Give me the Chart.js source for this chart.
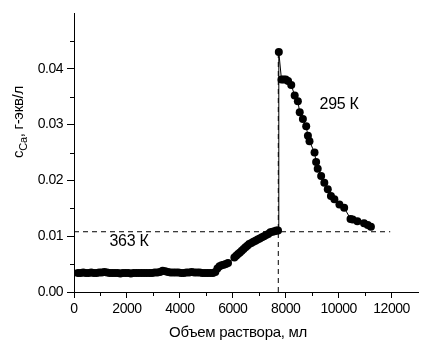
<!DOCTYPE html>
<html>
<head>
<meta charset="utf-8">
<script src="https://cdn.jsdelivr.net/npm/chart.js@4.4.1/dist/chart.umd.min.js"></script>
<style>
  html, body { margin: 0; padding: 0; background: #fff; }
  #wrap { width: 422px; height: 343px; position: relative; }
</style>
</head>
<body>
<div id="wrap"><canvas id="chart"></canvas></div>
<script>
// Volume (ml) / concentration (g-eq/l)
const lowVol = [150, 250, 350, 450, 550, 650, 750, 850, 950, 1050, 1150, 1250, 1350, 1450, 1550, 1650, 1750, 1850, 1950, 2050, 2150, 2250, 2350, 2450, 2550, 2650,
  2750, 2850, 2950, 3050, 3150, 3250, 3350, 3450, 3550, 3650, 3750, 3850, 3950, 4050, 4150, 4250, 4350, 4450, 4550, 4650, 4750, 4850, 4950, 5050, 5150, 5250];
const lowConc = [0.0034, 0.0034, 0.0035, 0.0034, 0.0034, 0.0035, 0.0034, 0.0034, 0.0035, 0.0035, 0.0036, 0.0035, 0.0034, 0.0034, 0.0034, 0.0034, 0.0033, 0.0034, 0.0034, 0.0034, 0.0033, 0.0034, 0.0034, 0.0034, 0.0034, 0.0034,
  0.0034, 0.0034, 0.0034, 0.0035, 0.0035, 0.0036, 0.0038, 0.0037, 0.0036, 0.0035, 0.0035, 0.0035, 0.0035, 0.0034, 0.0034, 0.0035, 0.0035, 0.0036, 0.0035, 0.0035, 0.0035, 0.0034, 0.0034, 0.0034, 0.0034, 0.0034];
const riseVol = [5340, 5420, 5500, 5580, 5660, 5740, 5820, 6060, 6130, 6200, 6270, 6340, 6410, 6480, 6550, 6620, 6700, 6780, 6860, 6940, 7020, 7100, 7180, 7260, 7340, 7420, 7500, 7580, 7650, 7710];
const riseConc = [0.0036, 0.0042, 0.0046, 0.0048, 0.0049, 0.0050, 0.0052, 0.0062, 0.0065, 0.0068, 0.0071, 0.0074, 0.0077, 0.0080, 0.0083, 0.0086, 0.0088, 0.0090, 0.0092, 0.0094, 0.0096, 0.0098, 0.0100, 0.0102, 0.0104, 0.0107, 0.0108, 0.0109, 0.0110, 0.0110];
const fallVol = [7740, 7840, 7920, 8000, 8090, 8210, 8340, 8460, 8530, 8650, 8775, 8840, 8900, 9090, 9150, 9210, 9340, 9460, 9590, 9710, 9840, 10030, 10210, 10450, 10530, 10710, 10960, 11100, 11220];
const fallConc = [0.0430, 0.0381, 0.0381, 0.0381, 0.0378, 0.0371, 0.0352, 0.0342, 0.0322, 0.0310, 0.0297, 0.0280, 0.0270, 0.0250, 0.0233, 0.0221, 0.0208, 0.0196, 0.0184, 0.0172, 0.0166, 0.0157, 0.0151, 0.0131, 0.0130, 0.0127, 0.0123, 0.0120, 0.0117];

const xTicks = [0, 2000, 4000, 6000, 8000, 10000, 12000];
const xMinor = [1000, 3000, 5000, 7000, 9000, 11000];
const yTicks = [0, 0.01, 0.02, 0.03, 0.04];
const yMinor = [0.005, 0.015, 0.025, 0.035, 0.045];

// dashed guide lines
const levelConc = 0.0108, levelEnd = 11950;
const jumpVol = 7720, jumpTop = 0.043;

const FONT = "'Liberation Sans', Arial, sans-serif";

const vol = lowVol.concat(riseVol, fallVol);
const conc = lowConc.concat(riseConc, fallConc);
const points = vol.map((v, i) => ({ x: v, y: conc[i] }));

const textPlugin = {
  id: "texts",
  beforeDraw(chart) {
    chart.ctx.letterSpacing = "-0.5px";
  },
  afterDraw(chart) {
    const ctx = chart.ctx;
    const xs = chart.scales.x, ys = chart.scales.y;
    ctx.save();
    ctx.strokeStyle = "#000";
    ctx.lineWidth = 1;
    // minor ticks
    ctx.beginPath();
    xMinor.forEach(v => {
      const px = Math.round(xs.getPixelForValue(v)) + 0.5;
      ctx.moveTo(px, ys.bottom);
      ctx.lineTo(px, ys.bottom + 4);
    });
    yMinor.forEach(v => {
      const py = Math.round(ys.getPixelForValue(v)) + 0.5;
      ctx.moveTo(xs.left, py);
      ctx.lineTo(xs.left - 4, py);
    });
    ctx.stroke();

    ctx.fillStyle = "#000";
    ctx.letterSpacing = "-0.3px";
    ctx.textBaseline = "middle";
    ctx.textAlign = "left";
    ctx.font = "16px " + FONT;
    ctx.fillText("363 К", xs.getPixelForValue(1340), ys.getPixelForValue(0.0090));
    ctx.fillText("295 К", xs.getPixelForValue(9280), ys.getPixelForValue(0.0336));

    // x title
    ctx.textAlign = "center";
    ctx.font = "15px " + FONT;
    ctx.letterSpacing = "-0.3px";
    ctx.fillText("Объем раствора, мл", 238, 333);

    // y title with subscript
    ctx.translate(18, 122);
    ctx.rotate(-Math.PI / 2);
    ctx.textAlign = "left";
    ctx.textBaseline = "alphabetic";
    const big = "15px " + FONT, small = "11px " + FONT;
    ctx.font = big;
    const w1 = ctx.measureText("c").width;
    const w3 = ctx.measureText(", г-экв/л").width;
    ctx.font = small;
    const w2 = ctx.measureText("Ca").width;
    let x0 = -(w1 + w2 + w3) / 2;
    const base = 5;
    ctx.font = big;
    ctx.fillText("c", x0, base);
    ctx.font = small;
    ctx.fillText("Ca", x0 + w1, base + 4);
    ctx.font = big;
    ctx.fillText(", г-экв/л", x0 + w1 + w2, base);
    ctx.restore();
  }
};

const axisCommon = {
  type: "linear",
  grid: { drawOnChartArea: false, drawTicks: true, color: "#000", tickColor: "#000", lineWidth: 1 },
  border: { display: true, color: "#000", width: 1 },
};

new Chart(document.getElementById("chart"), {
  type: "scatter",
  data: {
    datasets: [
      {
        data: [{ x: 0, y: levelConc }, { x: levelEnd, y: levelConc }],
        showLine: true,
        borderColor: "#000",
        borderWidth: 1,
        borderDash: [5, 4],
        pointRadius: 0,
      },
      {
        data: [{ x: jumpVol, y: 0 }, { x: jumpVol, y: jumpTop }],
        showLine: true,
        borderColor: "#000",
        borderWidth: 1,
        borderDash: [5, 4],
        pointRadius: 0,
      },
      {
        data: points,
        showLine: true,
        borderColor: "#000",
        borderWidth: 1,
        pointRadius: 4,
        pointBackgroundColor: "#000",
        pointBorderWidth: 0,
      },
    ],
  },
  options: {
    responsive: true,
    maintainAspectRatio: false,
    animation: false,
    devicePixelRatio: 1,
    layout: { padding: { top: 13, right: 0, left: 0, bottom: 0 } },
    plugins: { legend: { display: false }, tooltip: { enabled: false } },
    scales: {
      x: {
        ...axisCommon,
        min: 0,
        max: 13000,
        afterBuildTicks: s => { s.ticks = xTicks.map(v => ({ value: v })); },
        afterFit: s => { s.height = 51; },
        grid: { ...axisCommon.grid, tickLength: 6 },
        ticks: { color: "#000", padding: 3, maxRotation: 0, font: { family: FONT, size: 14 }, callback: v => String(v) },
      },
      y: {
        ...axisCommon,
        min: 0,
        max: 0.05,
        afterBuildTicks: s => { s.ticks = yTicks.map(v => ({ value: v })); },
        afterFit: s => { s.width = 74; },
        grid: { ...axisCommon.grid, tickLength: 7 },
        ticks: { color: "#000", padding: 4, font: { family: FONT, size: 14 }, callback: v => v.toFixed(2) },
      },
    },
  },
  plugins: [textPlugin],
});
</script>
</body>
</html>
